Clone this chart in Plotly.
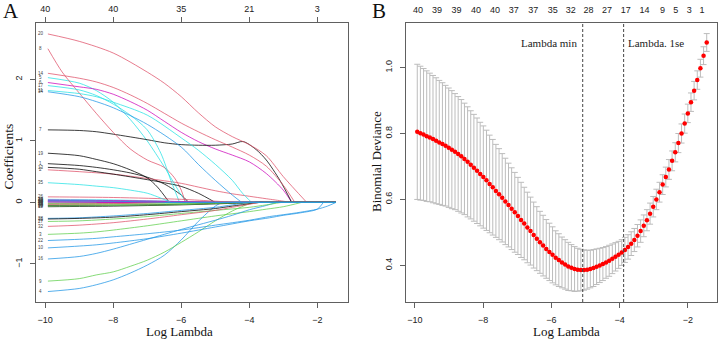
import numpy as np
import plotly.graph_objects as go

W, H = 719, 339

# ---------------- Panel A data: coefficient paths (log lambda, coefficient) ----------------
path_01 = [(-9.92, 0.63), (-9, 0.60), (-8.5, 0.57), (-8, 0.53), (-7.5, 0.48), (-7, 0.41), (-6.5, 0.30), (-6, 0.12), (-5.78, 0)]
path_02 = [(-9.92, 0.53), (-9, 0.50), (-8, 0.46), (-7, 0.39), (-6, 0.31), (-5.5, 0.25), (-5, 0.19), (-4.5, 0.14), (-4, 0.10), (-3.5, 0.06), (-3, 0.02), (-2.8, 0)]
path_03 = [(-9.92, -0.52), (-9, -0.50), (-8.5, -0.48), (-8, -0.45), (-7, -0.38), (-6, -0.30), (-5, -0.22), (-4, -0.15), (-3.5, -0.11), (-3, -0.07), (-2.46, 0)]
path_04 = [(-9.92, -1.45), (-9, -1.40), (-8.5, -1.34), (-8, -1.26), (-7.5, -1.15), (-7, -1.02), (-6.5, -0.86), (-6, -0.61), (-5.5, -0.31), (-5, -0.06), (-4.8, 0)]
path_05 = [(-9.92, 2.03), (-9, 1.94), (-8.5, 1.82), (-8, 1.63), (-7.5, 1.35), (-7, 1.0), (-6.5, 0.58), (-6, 0.12), (-5.84, 0)]
path_06 = [(-9.92, 1.95), (-9, 1.88), (-8.5, 1.84), (-8, 1.76), (-7.5, 1.64), (-7, 1.50), (-6.5, 1.32), (-6, 1.14), (-5.5, 0.99), (-5, 0.87), (-4.5, 0.77), (-4, 0.66), (-3.5, 0.47), (-3, 0.20), (-2.75, 0)]
path_07 = [(-9.92, 1.18), (-9, 1.17), (-8.5, 1.15), (-8, 1.11), (-7, 1.02), (-6.5, 0.97), (-6, 0.94), (-5.5, 0.93), (-5, 0.93), (-4.5, 0.95), (-4.18, 0.99), (-3.8, 0.86), (-3.5, 0.69), (-3.1, 0.36), (-2.75, 0)]
path_08 = [(-9.92, 2.50), (-9.5, 2.12), (-9, 1.78), (-8.5, 1.45), (-8, 1.14), (-7.5, 0.87), (-7, 0.69), (-6.5, 0.57), (-6.2, 0.40), (-6, 0.20), (-5.88, 0)]
path_09 = [(-9.92, -1.28), (-9, -1.24), (-8.5, -1.18), (-8, -1.13), (-7.5, -1.04), (-7, -0.94), (-6.5, -0.81), (-6, -0.65), (-5.5, -0.48), (-5, -0.30), (-4.5, -0.14), (-4, -0.02), (-3.9, 0)]
path_10 = [(-9.92, -0.74), (-9, -0.71), (-8.5, -0.69), (-8, -0.66), (-7, -0.59), (-6, -0.50), (-5, -0.40), (-4, -0.30), (-3.4, -0.25), (-3, -0.21), (-2.5, -0.17), (-2, -0.11), (-1.82, 0)]
path_11 = [(-9.92, 1.82), (-9, 1.77), (-8.5, 1.72), (-8, 1.63), (-7, 1.42), (-6, 1.05), (-5.5, 0.85), (-5, 0.62), (-4.5, 0.36), (-4.2, 0.15), (-3.93, 0)]
path_12 = [(-9.92, 0.03), (-8, 0.025), (-6, 0.01), (-5, 0)]
path_13 = [(-9.92, 0.57), (-9, 0.54), (-8.5, 0.50), (-8, 0.46), (-7, 0.37), (-6.5, 0.32), (-6, 0.26), (-5.5, 0.15), (-5, 0)]
path_14 = [(-9.92, 2.10), (-9, 2.02), (-8.5, 1.96), (-8, 1.87), (-7.5, 1.75), (-7, 1.61), (-6.5, 1.45), (-6, 1.29), (-5.5, 1.15), (-5, 1.02), (-4.5, 0.90), (-4, 0.77), (-3.5, 0.59), (-3, 0.28), (-2.66, 0)]
path_15 = [(-9.92, -0.01), (-7.5, 0)]
path_16 = [(-9.92, -0.92), (-9, -0.88), (-8.5, -0.83), (-8, -0.76), (-7, -0.60), (-6, -0.44), (-5, -0.29), (-4.5, -0.21), (-4, -0.12), (-3.5, -0.05), (-3.2, 0)]
path_17 = [(-9.92, 1.90), (-9, 1.83), (-8.5, 1.74), (-8, 1.60), (-7.5, 1.42), (-7, 1.18), (-6.6, 0.80), (-6.3, 0.35), (-6.05, 0)]
path_18 = [(-9.92, 0.02), (-7.5, 0.01), (-6.2, 0)]
path_19 = [(-9.92, 0.80), (-9, 0.76), (-8.5, 0.70), (-8, 0.63), (-7.5, 0.53), (-7, 0.40), (-6.7, 0.25), (-6.35, 0)]
path_20 = [(-9.92, 2.74), (-9, 2.62), (-8, 2.43), (-7, 2.12), (-6.5, 1.94), (-6, 1.72), (-5.5, 1.46), (-5, 1.23), (-4.5, 1.07), (-4, 0.94), (-3.5, 0.76), (-3, 0.42), (-2.31, 0)]
path_21 = [(-9.92, -0.02), (-8, -0.015), (-6, -0.005), (-5.2, 0)]
path_22 = [(-9.92, -0.62), (-9, -0.60), (-8.5, -0.585), (-8, -0.56), (-7, -0.51), (-6, -0.45), (-5, -0.37), (-4, -0.29), (-3.4, -0.23), (-3, -0.20), (-2.5, -0.16), (-2, -0.11), (-1.7, -0.06), (-1.45, 0)]
path_23 = [(-9.92, 0.05), (-8, 0.04), (-6.5, 0.02), (-5.5, 0)]
path_24 = [(-9.92, 0.015), (-7, 0.008), (-5.5, 0)]
path_25 = [(-9.92, -0.05), (-8, -0.045), (-6, -0.03), (-5, -0.015), (-4.2, 0)]
path_26 = [(-9.92, 0.09), (-8, 0.08), (-6, 0.05), (-5, 0.02), (-4.4, 0)]
path_27 = [(-9.92, -0.31), (-9, -0.30), (-8, -0.27), (-7, -0.23), (-6, -0.18), (-5, -0.13), (-4, -0.08), (-3.5, -0.04), (-3.05, 0)]
path_28 = [(-9.92, -0.26), (-9, -0.25), (-8, -0.22), (-7, -0.18), (-6, -0.13), (-5, -0.08), (-4.5, -0.04), (-4, 0)]
path_29 = [(-9.92, 0.01), (-8, 0.005), (-7, 0)]
path_30 = [(-9.92, 0.04), (-8, 0.03), (-6, 0.015), (-4.8, 0)]
path_31 = [(-9.92, -0.27), (-9, -0.26), (-8, -0.24), (-7, -0.20), (-6, -0.15), (-5, -0.10), (-4.5, -0.06), (-3.7, 0)]
path_32 = [(-9.92, -0.39), (-9, -0.37), (-8, -0.33), (-7, -0.27), (-6, -0.20), (-5, -0.13), (-4.5, -0.08), (-4, -0.03), (-3.7, 0)]
path_33 = [(-9.92, -0.04), (-8, -0.03), (-6, -0.02), (-4, 0)]
path_34 = [(-9.92, 1.80), (-9, 1.72), (-8.5, 1.64), (-8, 1.54), (-7, 1.27), (-6, 0.90), (-5.5, 0.62), (-5, 0.36), (-4.5, 0.12), (-4.22, 0)]
path_35 = [(-9.92, 0.32), (-9, 0.29), (-8.5, 0.265), (-8, 0.24), (-7.5, 0.20), (-7, 0.15), (-6.6, 0.07), (-6.3, 0)]
path_36 = [(-9.92, 0.005), (-8.5, 0)]
path_37 = [(-9.92, -0.07), (-8, -0.06), (-6, -0.04), (-4.5, -0.015), (-3.8, 0)]
path_38 = [(-9.92, -0.03), (-8, -0.02), (-6.5, 0)]
path_39 = [(-9.92, -0.06), (-8, -0.05), (-6, -0.035), (-4.5, -0.01), (-3.6, 0)]
path_40 = [(-9.92, 0.035), (-8, 0.02), (-6.5, 0)]

coef_paths = [path_01, path_02, path_03, path_04, path_05, path_06, path_07, path_08, path_09, path_10,
              path_11, path_12, path_13, path_14, path_15, path_16, path_17, path_18, path_19, path_20,
              path_21, path_22, path_23, path_24, path_25, path_26, path_27, path_28, path_29, path_30,
              path_31, path_32, path_33, path_34, path_35, path_36, path_37, path_38, path_39, path_40]
var_labels = [str(i) for i in range(1, 41)]
loglam_end_A = -1.45

topA_pos = [-10, -8, -6, -4, -2]
topA_labels = ["40", "40", "35", "21", "3"]

# ---------------- Panel B data: cross-validation curve ----------------
loglam_first, loglam_last, n_lambda = -9.93, -1.445, 93   # glmnet lambda grid is evenly spaced in log
cvm = [0.805, 0.801, 0.797, 0.792, 0.788, 0.783, 0.778, 0.773, 0.768, 0.763,
       0.757, 0.751, 0.745, 0.738, 0.731, 0.723, 0.714, 0.705, 0.696, 0.687,
       0.677, 0.668, 0.658, 0.647, 0.637, 0.626, 0.616, 0.605, 0.594, 0.583,
       0.572, 0.561, 0.550, 0.538, 0.527, 0.515, 0.504, 0.492, 0.481, 0.470,
       0.460, 0.450, 0.441, 0.432, 0.423, 0.416, 0.409, 0.403, 0.397, 0.393,
       0.389, 0.387, 0.386, 0.386, 0.387, 0.389, 0.392, 0.396, 0.400, 0.404,
       0.409, 0.414, 0.420, 0.426, 0.432, 0.439, 0.447, 0.456, 0.466, 0.477,
       0.490, 0.504, 0.520, 0.537, 0.557, 0.578, 0.600, 0.622, 0.645, 0.668,
       0.691, 0.717, 0.743, 0.771, 0.800, 0.830, 0.861, 0.895, 0.930, 0.962,
       0.998, 1.036, 1.076]
cvsd = [0.205, 0.203, 0.200, 0.198, 0.195, 0.193, 0.191, 0.188, 0.186, 0.183,
        0.181, 0.179, 0.176, 0.174, 0.172, 0.169, 0.167, 0.164, 0.162, 0.160,
        0.157, 0.155, 0.152, 0.148, 0.145, 0.141, 0.138, 0.134, 0.131, 0.127,
        0.124, 0.121, 0.117, 0.114, 0.110, 0.107, 0.103, 0.100, 0.097, 0.094,
        0.092, 0.089, 0.087, 0.085, 0.082, 0.080, 0.077, 0.075, 0.073, 0.070,
        0.068, 0.065, 0.063, 0.061, 0.059, 0.057, 0.056, 0.054, 0.052, 0.050,
        0.048, 0.047, 0.045, 0.043, 0.041, 0.039, 0.038, 0.037, 0.036, 0.035,
        0.034, 0.034, 0.033, 0.032, 0.032, 0.031, 0.031, 0.030, 0.030, 0.030,
        0.030, 0.030, 0.029, 0.029, 0.029, 0.029, 0.028, 0.028, 0.028, 0.028,
        0.027, 0.027, 0.027]
topB_pos = [-9.91, -9.35, -8.78, -8.21, -7.65, -7.10, -6.53, -5.96, -5.43, -4.91, -4.37, -3.82, -3.27, -2.74, -2.35, -1.96, -1.58]
topB_labels = ["40", "39", "39", "40", "40", "37", "37", "35", "32", "28", "27", "17", "14", "9", "5", "3", "1"]
lambda_min_log = -5.08
lambda_1se_log = -3.88

# ---------------- styling ----------------
palette = ["#000000", "#DF536B", "#61D04F", "#2297E6", "#28E2E5", "#CD0BBC"]
SANS = "Liberation Sans, Arial, sans-serif"
SERIF = "Liberation Serif, Times New Roman, serif"
AXC = "#606060"


def px_x(p):
    return p / W


def px_y(p):
    return 1 - p / H


domA = [px_x(36), px_x(347.7)]
domB = [px_x(406), px_x(716.6)]
domY = [px_y(302), px_y(23.2)]

fig = go.Figure()

# Panel A traces
for k, path in enumerate(coef_paths):
    col = palette[k % 6]
    xs = [p[0] for p in path]
    ys = [p[1] for p in path]
    fig.add_trace(go.Scatter(x=xs, y=ys, mode="lines", opacity=0.85,
                             line=dict(color=col, width=0.9, shape="spline", smoothing=0.8),
                             xaxis="x", yaxis="y", hoverinfo="skip", showlegend=False))
    if xs[-1] < loglam_end_A:
        fig.add_trace(go.Scatter(x=[xs[-1], loglam_end_A], y=[0, 0], mode="lines", line=dict(color=col, width=1),
                                 xaxis="x", yaxis="y", hoverinfo="skip", showlegend=False))

# dummy traces for top axes
fig.add_trace(go.Scatter(x=[topA_pos[0]], y=[0], xaxis="x3", yaxis="y", mode="markers",
                         marker=dict(opacity=0), hoverinfo="skip", showlegend=False))
fig.add_trace(go.Scatter(x=[topB_pos[0]], y=[0.8], xaxis="x4", yaxis="y2", mode="markers",
                         marker=dict(opacity=0), hoverinfo="skip", showlegend=False))

# Panel B
loglam = np.linspace(loglam_first, loglam_last, n_lambda)
fig.add_trace(go.Scatter(x=loglam, y=cvm, mode="markers", xaxis="x2", yaxis="y2",
                         marker=dict(color="red", size=4.5, line=dict(width=0)),
                         error_y=dict(type="data", array=cvsd, color="#bcbcbc", thickness=1, width=3),
                         hoverinfo="skip", showlegend=False))

axis_common = dict(showgrid=False, zeroline=False, showline=True, mirror=True, linecolor=AXC, linewidth=1,
                   ticks="outside", ticklen=5, tickcolor=AXC, tickwidth=1,
                   tickfont=dict(family=SANS, size=9, color="#222"))

fig.update_layout(
    width=W, height=H, margin=dict(l=0, r=0, t=0, b=0),
    paper_bgcolor="white", plot_bgcolor="white", showlegend=False,
    xaxis=dict(domain=domA, range=[-10.27, -1.106], anchor="y", tickvals=[-10, -8, -6, -4, -2],
               ticklabelstandoff=4, **axis_common),
    yaxis=dict(domain=domY, range=[-1.62, 2.915], anchor="x", tickvals=[-1, 0, 1, 2], tickangle=-90,
               ticklabelstandoff=4, **axis_common),
    xaxis3=dict(overlaying="x", side="top", anchor="y", range=[-10.27, -1.106], tickvals=topA_pos,
                ticktext=topA_labels, showgrid=False, zeroline=False, showline=False, ticks="outside",
                ticklen=5, tickcolor=AXC, tickfont=dict(family=SANS, size=9, color="#222"), ticklabelstandoff=2),
    xaxis2=dict(domain=domB, range=[-10.26, -1.155], anchor="y2", tickvals=[-10, -8, -6, -4, -2],
                ticklabelstandoff=4, **axis_common),
    yaxis2=dict(domain=domY, range=[0.289, 1.1345], anchor="x2", tickvals=[0.4, 0.6, 0.8, 1.0],
                tickformat=".1f", tickangle=-90, ticklabelstandoff=4, **axis_common),
    xaxis4=dict(overlaying="x2", side="top", anchor="y2", range=[-10.26, -1.155], tickvals=topB_pos,
                ticktext=topB_labels, showgrid=False, zeroline=False, showline=False, ticks="",
                tickfont=dict(family=SANS, size=9, color="#222"), ticklabelstandoff=7),
)

# dashed lambda lines
for xv in [lambda_min_log, lambda_1se_log]:
    fig.add_shape(type="line", xref="x2", yref="paper", x0=xv, x1=xv, y0=domY[0], y1=domY[1],
                  line=dict(color="#444", width=1, dash="3px,2px"))

ann = []
# variable labels on left of panel A
for k, path in enumerate(coef_paths):
    ann.append(dict(x=-10.13, y=path[0][1], xref="x", yref="y", text=var_labels[k], showarrow=False,
                    font=dict(family=SANS, size=4.5, color="#444"), xanchor="center", yanchor="middle"))

ann += [
    dict(x=lambda_min_log, y=px_y(43.5), xref="x2", yref="paper", text="Lambda min", showarrow=False,
         xanchor="right", yanchor="middle", xshift=-4, font=dict(family=SERIF, size=11, color="#222")),
    dict(x=lambda_1se_log, y=px_y(43.5), xref="x2", yref="paper", text="Lambda. 1se", showarrow=False,
         xanchor="left", yanchor="middle", xshift=2, font=dict(family=SERIF, size=11, color="#222")),
    dict(x=px_x(179), y=px_y(331), xref="paper", yref="paper", text="Log Lambda", showarrow=False,
         xanchor="center", yanchor="middle", font=dict(family=SERIF, size=13, color="#111")),
    dict(x=px_x(566), y=px_y(331), xref="paper", yref="paper", text="Log Lambda", showarrow=False,
         xanchor="center", yanchor="middle", font=dict(family=SERIF, size=13, color="#111")),
    dict(x=px_x(7.5), y=px_y(157), xref="paper", yref="paper", text="Coefficients", showarrow=False,
         textangle=-90, xanchor="center", yanchor="middle", font=dict(family=SERIF, size=13.5, color="#111")),
    dict(x=px_x(376), y=px_y(162), xref="paper", yref="paper", text="Binomial Deviance", showarrow=False,
         textangle=-90, xanchor="center", yanchor="middle", font=dict(family=SERIF, size=13, color="#111")),
    dict(x=px_x(11), y=px_y(11.5), xref="paper", yref="paper", text="A", showarrow=False,
         xanchor="center", yanchor="middle", font=dict(family=SERIF, size=21, color="#111")),
    dict(x=px_x(378.5), y=px_y(11.5), xref="paper", yref="paper", text="B", showarrow=False,
         xanchor="center", yanchor="middle", font=dict(family=SERIF, size=21, color="#111")),
]
fig.update_layout(annotations=ann)

fig.write_html("out.html", config={"displayModeBar": False, "staticPlot": True},
               post_script="document.body.style.margin='0';document.body.style.overflow='hidden';")
